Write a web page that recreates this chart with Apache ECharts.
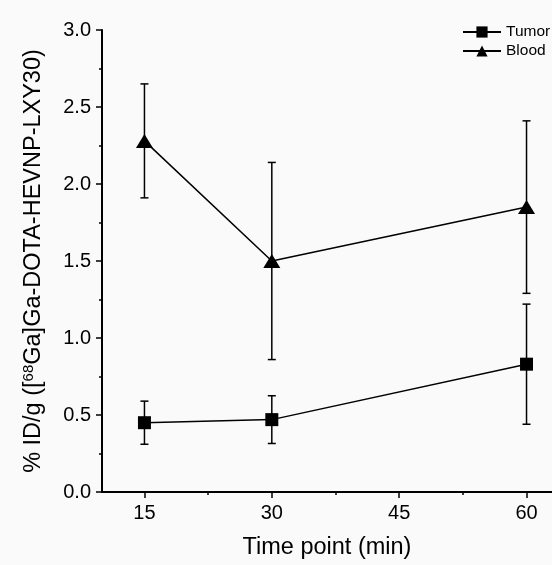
<!DOCTYPE html>
<html><head><meta charset="utf-8">
<script src="https://cdn.jsdelivr.net/npm/echarts@6/dist/echarts.min.js"></script>
<style>html,body{margin:0;padding:0;background:#fafafa;}#c{width:552px;height:565px;}</style>
</head><body><div id="c"></div>
<script>
const timePoints = [15, 30, 60];
const tumorMean = [0.45, 0.47, 0.83];
const tumorErr = [0.14, 0.155, 0.39];
const bloodMean = [2.28, 1.50, 1.85];
const bloodErr = [0.37, 0.64, 0.56];
const xTickValues = [15, 30, 45, 60];
const xMinorValues = [22.5, 37.5, 52.5];
const seriesNames = ['Tumor', 'Blood'];

const font = 'Liberation Sans, Arial, sans-serif';
const chart = echarts.init(document.getElementById('c'), null, {renderer: 'canvas'});

function errData(mean, err) {
  return timePoints.map((t, i) => [t, mean[i] - err[i], mean[i] + err[i]]);
}
function errRender(params, api) {
  const x = api.value(0);
  const lo = api.coord([x, api.value(1)]);
  const hi = api.coord([x, api.value(2)]);
  const cap = 4;
  const st = {stroke: '#000', lineWidth: 1.5};
  return {type: 'group', children: [
    {type: 'line', shape: {x1: lo[0], y1: lo[1], x2: hi[0], y2: hi[1]}, style: st},
    {type: 'line', shape: {x1: lo[0] - cap, y1: lo[1], x2: lo[0] + cap, y2: lo[1]}, style: st},
    {type: 'line', shape: {x1: hi[0] - cap, y1: hi[1], x2: hi[0] + cap, y2: hi[1]}, style: st}
  ]};
}

const axisCommon = {
  axisLine: {show: true, lineStyle: {color: '#000', width: 2}},
  splitLine: {show: false}
};

chart.setOption({
  backgroundColor: '#fafafa',
  animation: false,
  textStyle: {fontFamily: font},
  grid: {left: 102, right: 0, top: 30, bottom: 70, containLabel: false},
  legend: {
    data: seriesNames, orient: 'vertical', left: 457, top: 19,
    itemWidth: 38, itemHeight: 14, itemGap: 3,
    textStyle: {fontFamily: font, fontSize: 15.5, color: '#000'}
  },
  xAxis: [{
    type: 'value', min: 10, max: 63,
    name: 'Time point (min)', nameLocation: 'middle', nameGap: 44,
    nameTextStyle: {fontFamily: font, fontSize: 23.5, color: '#000'},
    ...axisCommon,
    axisTick: {show: true, inside: false, length: 6, lineStyle: {color: '#000', width: 1.5}, customValues: xTickValues},
    axisLabel: {fontFamily: font, fontSize: 20, color: '#000', margin: 11, customValues: xTickValues}
  }, {
    type: 'value', min: 10, max: 63, position: 'bottom',
    axisLine: {show: false}, splitLine: {show: false},
    axisTick: {show: true, length: 3, lineStyle: {color: '#000', width: 1.5}, customValues: xMinorValues},
    axisLabel: {show: false}
  }],
  yAxis: {
    type: 'value', min: 0, max: 3, interval: 0.5,
    name: '% ID/g ([{sup|68}Ga]Ga-DOTA-HEVNP-LXY30)', nameLocation: 'middle', nameGap: 56,
    nameTextStyle: {fontFamily: font, fontSize: 23.5, color: '#000',
      rich: {sup: {fontFamily: font, fontSize: 15, verticalAlign: 'top', padding: [0, 0, 10, 0], color: '#000'}}},
    ...axisCommon,
    axisTick: {show: true, length: 6, lineStyle: {color: '#000', width: 1.5}},
    minorTick: {show: true, splitNumber: 2, length: 3, lineStyle: {color: '#000', width: 1.5}},
    axisLabel: {fontFamily: font, fontSize: 20, color: '#000', margin: 11, formatter: v => v.toFixed(1)}
  },
  series: [
    {type: 'custom', name: 'TumorErr', renderItem: errRender, data: errData(tumorMean, tumorErr), z: 1, encode: {x: 0, y: [1, 2]}},
    {type: 'custom', name: 'BloodErr', renderItem: errRender, data: errData(bloodMean, bloodErr), z: 1, encode: {x: 0, y: [1, 2]}},
    {type: 'line', name: seriesNames[0], data: timePoints.map((t, i) => [t, tumorMean[i]]),
      symbol: 'rect', symbolSize: 13, itemStyle: {color: '#000'}, lineStyle: {color: '#000', width: 1.5}, z: 3},
    {type: 'line', name: seriesNames[1], data: timePoints.map((t, i) => [t, bloodMean[i]]),
      symbol: 'triangle', symbolSize: [17, 14], itemStyle: {color: '#000'}, lineStyle: {color: '#000', width: 1.5}, z: 3}
  ]
});
</script></body></html>
